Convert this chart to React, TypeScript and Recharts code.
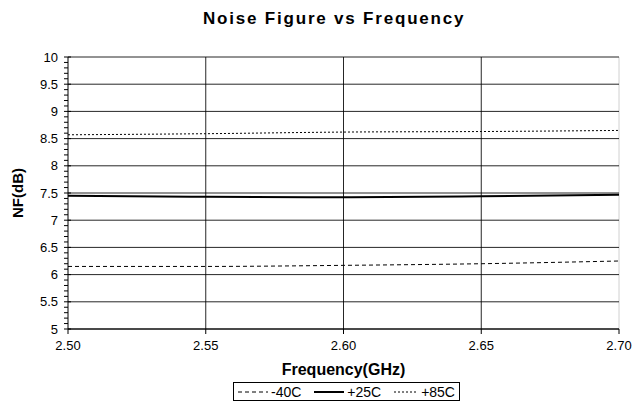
import React from "react";
import {
  Label,
  Line,
  LineChart,
  ReferenceLine,
  XAxis,
  YAxis,
} from "recharts";

const frequencies = [2.5, 2.55, 2.6, 2.65, 2.7];
const nfMinus40 = [6.15, 6.15, 6.17, 6.2, 6.25];
const nfPlus25 = [7.45, 7.43, 7.42, 7.44, 7.47];
const nfPlus85 = [8.57, 8.59, 8.62, 8.63, 8.65];

const xTicks = [2.5, 2.55, 2.6, 2.65, 2.7];
const yMajorTicks = [5, 5.5, 6, 6.5, 7, 7.5, 8, 8.5, 9, 9.5, 10];
const yMinorTicks = Array.from({ length: 51 }, (_, i) => Math.round((5 + i * 0.1) * 10) / 10);

const series = [
  { key: "m40", name: "-40C", width: 1, dash: "4 3" },
  { key: "p25", name: "+25C", width: 2, dash: undefined },
  { key: "p85", name: "+85C", width: 1, dash: "2 2" },
];

const data = frequencies.map((f, i) => ({
  freq: f,
  m40: nfMinus40[i],
  p25: nfPlus25[i],
  p85: nfPlus85[i],
}));

const FONT = "'Liberation Sans', Arial, sans-serif";

const YTick = (props: any) => {
  const { x, y, payload } = props;
  const v = payload.value;
  const major = Math.abs(v * 2 - Math.round(v * 2)) < 1e-6;
  return (
    <g>
      <line x1={x - 4} x2={major ? x + 3 : x} y1={y} y2={y} stroke="#000" strokeWidth={1} />
      {major && (
        <text x={x - 10} y={y} dy={4.5} textAnchor="end" fontSize={13} fill="#000" fontFamily={FONT}>
          {v}
        </text>
      )}
    </g>
  );
};

const LegendBox = () => (
  <div
    style={{
      position: "absolute",
      left: 233,
      top: 382,
      width: 227,
      height: 19,
      border: "1px solid #000",
      display: "flex",
      alignItems: "center",
      justifyContent: "space-between",
      padding: "0 4px",
      boxSizing: "border-box",
      fontFamily: FONT,
      fontSize: 14,
      background: "#fff",
    }}
  >
    {series.map((s) => (
      <span key={s.key} style={{ display: "flex", alignItems: "center", gap: 3 }}>
        <svg width={s.dash === "2 2" ? 24 : 30} height={8}>
          <line
            x1={0}
            x2={30}
            y1={4}
            y2={4}
            stroke="#000"
            strokeWidth={s.width}
            strokeDasharray={s.dash}
          />
        </svg>
        {s.name}
      </span>
    ))}
  </div>
);

export default function App() {
  return (
    <div style={{ position: "fixed", left: 0, top: 0, width: 641, height: 409, background: "#fff" }}>
      <div
        style={{
          position: "absolute",
          top: 9,
          left: 203,
          width: 262,
          whiteSpace: "nowrap",
          fontFamily: FONT,
          fontWeight: "bold",
          fontSize: 17,
          letterSpacing: 1.8,
        }}
      >
        Noise Figure vs Frequency
      </div>
      <LineChart
        width={641}
        height={409}
        data={data}
        margin={{ top: 57, right: 22, bottom: 32, left: 0 }}
      >
        {xTicks.slice(1).map((t, i, arr) => (
          <ReferenceLine
            key={"x" + t}
            x={t}
            stroke={i === arr.length - 1 ? "#c8c8c8" : "#000"}
            strokeOpacity={0.85}
          />
        ))}
        {yMajorTicks.map((t) => (
          <ReferenceLine key={"y" + t} y={t} stroke="#000" strokeOpacity={0.85} />
        ))}
        <XAxis
          dataKey="freq"
          type="number"
          domain={[2.5, 2.7]}
          ticks={xTicks}
          tickFormatter={(v: number) => v.toFixed(2)}
          stroke="#000"
          tick={{ fill: "#000", fontSize: 13, fontFamily: FONT }}
          tickSize={5}
          tickMargin={7}
          height={48}
        >
          <Label
            value="Frequency(GHz)"
            position="insideBottom"
            offset={2}
            style={{ fontFamily: FONT, fontWeight: "bold", fontSize: 16, fill: "#000" }}
          />
        </XAxis>
        <YAxis
          type="number"
          domain={[5, 10]}
          ticks={yMinorTicks}
          interval={0}
          width={68}
          stroke="#000"
          tickLine={false}
          tickSize={0}
          tickMargin={0}
          tick={<YTick />}
        >
          <Label
            value="NF(dB)"
            angle={-90}
            position="insideLeft"
            offset={18}
            style={{ fontFamily: FONT, fontWeight: "bold", fontSize: 15, fill: "#000", textAnchor: "middle" }}
          />
        </YAxis>
        {series.map((s) => (
          <Line
            key={s.key}
            dataKey={s.key}
            name={s.name}
            type="monotone"
            stroke="#000"
            strokeWidth={s.width}
            strokeDasharray={s.dash}
            dot={false}
            isAnimationActive={false}
          />
        ))}
      </LineChart>
      <LegendBox />
    </div>
  );
}
